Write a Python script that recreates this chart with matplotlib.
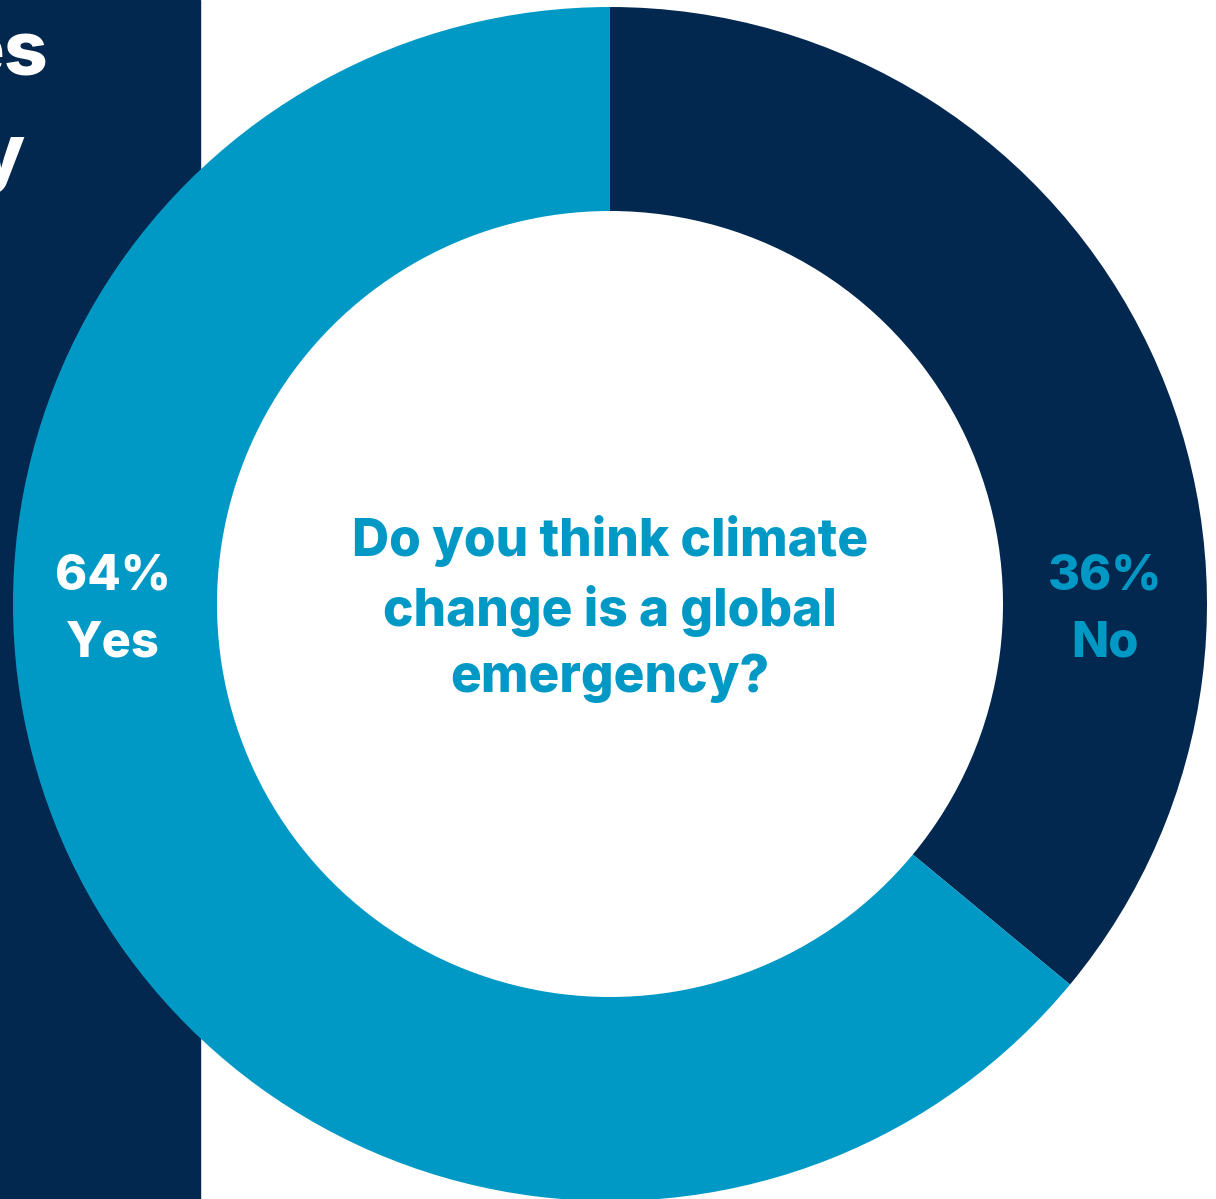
import matplotlib.pyplot as plt

# survey answer shares
labels = ["No", "Yes"]
shares = [36, 64]
question = "Do you think climate\nchange is a global\nemergency?"

navy = "#02284f"
blue = "#0099c6"

fig = plt.figure(figsize=(12.16, 11.99), dpi=100)
ax = fig.add_axes([0, 0, 1, 1])

# donut, in pixel units (y flipped: 0 at bottom)
cx, cy = 610, 1199 - 604
r_out, r_in = 597, 393
ax.pie(shares, colors=[navy, blue], startangle=90, counterclock=False,
       center=(cx, cy), radius=r_out,
       wedgeprops=dict(width=r_out - r_in, linewidth=0))

# navy side panel behind the ring
ax.add_patch(plt.Rectangle((0, 0), 200, 1199, color=navy, zorder=0))

ax.set_xlim(0, 1216)
ax.set_ylim(0, 1199)
ax.set_aspect("equal")
ax.axis("off")

font = ["Inter", "DejaVu Sans"]
w = 800

# cropped heading text on the panel
ax.text(48, 1199 - 75, "es", ha="right", va="baseline", color="white",
        fontsize=55, fontweight=w, family=font)
ax.text(24, 1199 - 178, "y", ha="right", va="baseline", color="white",
        fontsize=55, fontweight=w, family=font)

ax.text(113, 1199 - 610, f"{shares[1]}%\n{labels[1]}", ha="center", va="center",
        color="white", fontsize=35, fontweight=w, family=font,
        linespacing=1.57)
ax.text(1105, 1199 - 610, f"{shares[0]}%\n{labels[0]}", ha="center", va="center",
        color=blue, fontsize=35, fontweight=w, family=font,
        linespacing=1.57)

ax.text(cx, 1199 - 609, question, ha="center", va="center", color=blue,
        fontsize=37, fontweight=w, family=font, linespacing=1.44)

fig.savefig("out.png", dpi=100)
